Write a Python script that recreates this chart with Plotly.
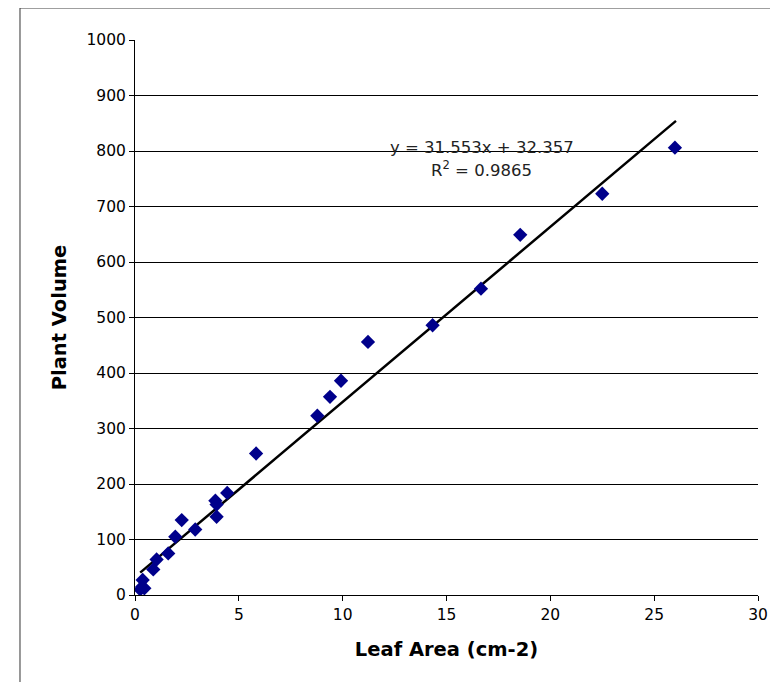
import plotly.graph_objects as go

leaf_area = [0.25, 0.35, 0.45, 0.37, 0.88, 1.04, 1.6, 1.94, 2.25, 2.9, 3.87, 3.93, 3.93,
             4.44, 5.83, 8.78, 9.39, 9.92, 11.22, 14.33, 16.66, 18.55, 22.5, 26.0]
plant_volume = [10, 15, 12, 27, 46, 64, 75, 105, 135, 118, 170, 163, 141,
                184, 255, 323, 357, 386, 456, 486, 552, 649, 723, 806]

slope = 31.553
intercept = 32.357
r_squared = 0.9865

x_ticks = [0, 5, 10, 15, 20, 25, 30]
y_ticks = list(range(0, 1001, 100))

x_line = [min(leaf_area), max(leaf_area) + 0.05]
y_line = [slope * v + intercept for v in x_line]

fig = go.Figure()
fig.add_trace(go.Scatter(x=x_line, y=y_line, mode="lines",
                         line=dict(color="black", width=2.5), hoverinfo="skip",
                         showlegend=False))
fig.add_trace(go.Scatter(x=leaf_area, y=plant_volume, mode="markers",
                         marker=dict(symbol="diamond", size=11, color="#00008B"),
                         showlegend=False))

fig.add_annotation(x=16.7, y=807, xref="x", yref="y",
                   text=f"y = {slope}x + {intercept}", showarrow=False,
                   font=dict(family="DejaVu Sans", size=16.5, color="#222"))
fig.add_annotation(x=16.7, y=767, xref="x", yref="y",
                   text=f"R<sup>2</sup> = {r_squared}", showarrow=False,
                   font=dict(family="DejaVu Sans", size=16.5, color="#222"))

# outer chart border
fig.add_shape(type="rect", xref="paper", yref="paper",
              x0=-0.1846, x1=1.06, y0=-0.19, y1=1.0577,
              line=dict(color="#333", width=1), fillcolor="rgba(0,0,0,0)", layer="below")

fig.update_layout(
    width=778, height=682,
    margin=dict(l=127, r=28, t=32, b=95),
    paper_bgcolor="white", plot_bgcolor="white",
    font=dict(family="DejaVu Sans", size=15, color="black"),
)
fig.update_xaxes(range=[0, 30], tickvals=x_ticks, showgrid=False, zeroline=False,
                 showline=True, linecolor="black", linewidth=1, automargin=False,
                 ticks="outside", ticklen=5, tickcolor="black",
                 tickfont=dict(size=15.5),
                 title=dict(text="<b>Leaf Area (cm-2)</b>", standoff=19,
                            font=dict(family="DejaVu Sans", size=19.5)))
fig.update_yaxes(range=[0, 1000], tickvals=y_ticks, showgrid=True, gridcolor="black",
                 gridwidth=1, zeroline=False, automargin=False,
                 showline=True, linecolor="black", linewidth=1,
                 ticks="outside", ticklen=5, tickcolor="black",
                 tickfont=dict(size=15.5),
                 title=dict(text="<b>Plant Volume</b>", standoff=14,
                            font=dict(family="DejaVu Sans", size=19.5)))

fig.write_html("out.html")
